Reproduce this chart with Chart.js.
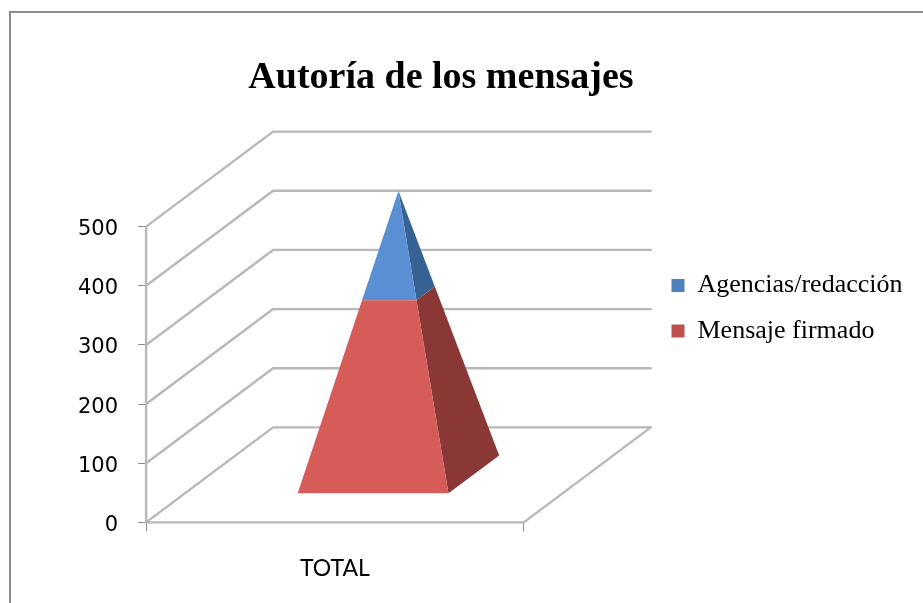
<!DOCTYPE html>
<html><head><meta charset="utf-8">
<style>html,body{margin:0;padding:0;background:#fff}
#wrap{position:relative;width:923px;height:603px;overflow:hidden}
#frame{position:absolute;left:9px;top:11px;width:1000px;height:700px;border:2px solid #8c8c8c;box-sizing:border-box}
canvas{position:absolute;left:0;top:0}</style>
<script src="https://cdn.jsdelivr.net/npm/chart.js@4/dist/chart.umd.min.js"></script>
</head><body><div id="wrap"><div id="frame"></div><canvas id="c" width="923" height="603"></canvas></div>
<script>
const categories = ["TOTAL"];
const mensajeFirmado = [307];
const agenciasRedaccion = [173];
const seriesNames = ["Mensaje firmado", "Agencias/redacción"];
const yTicks = [0, 100, 200, 300, 400, 500];
const titleText = "Autoría de los mensajes";

// Oblique depth of the 3D box, in pixels
const DEPTH_X = 127, DEPTH_Y = -95;
const NEAR = 0.3, MID = 0.5, FAR = 0.7;
const faces = [
  {front:"#d65c59", side:"#8a3836"},
  {front:"#5a8fd3", side:"#366294"}
];

class PyramidController extends Chart.BarController {
  draw() {
    const meta = this.getMeta(), ctx = this.chart.ctx;
    const colours = faces[this.index];
    const all = this.chart.getDatasetMeta(this.chart.data.datasets.length - 1).data[0];
    meta.data.forEach((bar) => {
      const halfW = bar.width / 2;
      const baseAll = this.chart.scales.y.getPixelForValue(0);
      const apex = {x: bar.x + DEPTH_X * MID, y: all.y + DEPTH_Y * MID};
      const ring = (px, d) => {
        const t = (baseAll - px) / (baseAll - all.y);
        return (side) => {
          const b = {x: bar.x + side * halfW + DEPTH_X * d, y: baseAll + DEPTH_Y * d};
          return {x: b.x + (apex.x - b.x) * t, y: b.y + (apex.y - b.y) * t};
        };
      };
      const lowN = ring(bar.base, NEAR), lowF = ring(bar.base, FAR);
      const upN = ring(bar.y, NEAR), upF = ring(bar.y, FAR);
      const poly = (pts, c) => {
        ctx.beginPath();
        pts.forEach((p, i) => i ? ctx.lineTo(p.x, p.y) : ctx.moveTo(p.x, p.y));
        ctx.closePath(); ctx.fillStyle = c; ctx.fill();
      };
      poly([lowN(1), lowF(1), upF(1), upN(1)], colours.side);
      poly([lowN(-1), lowN(1), upN(1), upN(-1)], colours.front);
    });
  }
}
PyramidController.id = "pyramid";
PyramidController.defaults = Chart.BarController.defaults;
PyramidController.overrides = Chart.BarController.overrides;
Chart.register(PyramidController);

const walls = {
  id: "walls",
  beforeDatasetsDraw(chart) {
    const {ctx, scales:{x, y}} = chart;
    const L = x.left, R = x.right;
    const seg = (a, b, c, d) => {ctx.moveTo(a, b); ctx.lineTo(c, d);};
    ctx.save();
    ctx.strokeStyle = "#b8b8b8"; ctx.lineWidth = 2.4; ctx.lineCap = "round"; ctx.lineJoin = "round";
    ctx.beginPath();
    yTicks.forEach(v => {
      const p = y.getPixelForValue(v);
      ctx.moveTo(L, p); ctx.lineTo(L + DEPTH_X, p + DEPTH_Y); ctx.lineTo(R + DEPTH_X, p + DEPTH_Y);
    });
    const p0 = y.getPixelForValue(0);
    seg(L, p0, R, p0);
    seg(R, p0, R + DEPTH_X, p0 + DEPTH_Y);
    seg(L, p0, L, y.getPixelForValue(500));
    ctx.stroke();
    ctx.restore();
  }
};
const placeBoxes = {
  id: "placeBoxes",
  afterLayout(chart) {
    chart.legend.top = 253;
    chart.legend.left = 652;
    chart.legend.right = chart.width;
    chart.titleBlock.left = 0;
    chart.titleBlock.right = 882;
  }
};

new Chart(document.getElementById("c"), {
  type: "pyramid",
  data: {
    labels: categories,
    datasets: [
      {label: seriesNames[0], data: mensajeFirmado, backgroundColor: "#c0504d", categoryPercentage: 1, barPercentage: 0.4, clip: false},
      {label: seriesNames[1], data: agenciasRedaccion, backgroundColor: "#4f81bd", categoryPercentage: 1, barPercentage: 0.4, clip: false}
    ]
  },
  plugins: [walls, placeBoxes],
  options: {
    responsive: false, animation: false,
    layout: {padding: {left: 58, right: 244, top: 45, bottom: -2}},
    scales: {
      x: {stacked: true, offset: true,
        grid: {display: true, offset: true, drawOnChartArea: false, drawTicks: true, tickLength: 9, color: "#8c8c8c", lineWidth: 1},
        border: {display: false},
        ticks: {color: "#000", font: {family: "Lato", size: 23}, padding: 23}},
      y: {stacked: true, min: 0, max: 500,
        afterBuildTicks(s) { s.ticks = yTicks.map(v => ({value: v})); },
        grid: {display: true, drawOnChartArea: false, drawTicks: true, tickLength: 8, color: "#8c8c8c"},
        border: {display: false},
        ticks: {color: "#000", font: {family: "DejaVu Sans", size: 21}, padding: 20, labelOffset: 3}}
    },
    plugins: {
      tooltip: {enabled: false},
      title: {display: true, text: titleText, color: "#000", font: {family: "Liberation Serif", size: 38, weight: "bold"}, padding: {top: 10, bottom: 126}},
      legend: {position: "right", align: "start", reverse: true,
        labels: {boxWidth: 13, boxHeight: 13, padding: 19.5, color: "#000", font: {family: "Liberation Serif", size: 26}}}
    }
  }
});
</script></body></html>
